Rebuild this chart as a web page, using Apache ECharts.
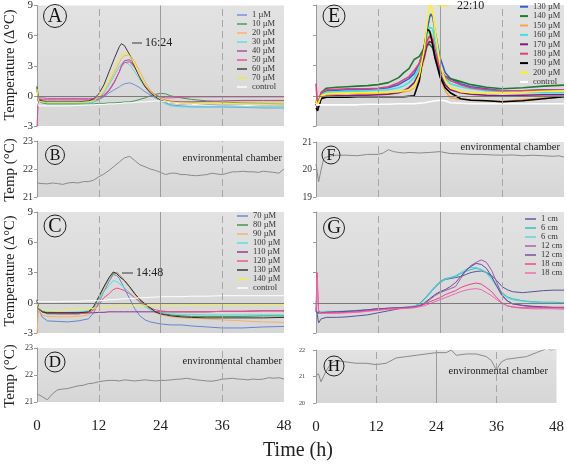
<!DOCTYPE html>
<html><head><meta charset="utf-8">
<script src="https://cdn.jsdelivr.net/npm/echarts@6/dist/echarts.min.js"></script>
<style>html,body{margin:0;padding:0;background:#fff}#c{width:567px;height:464px}</style>
</head><body><div id="c"></div><script>
// ---------- DATA ----------
// Panel A (time in h, ΔT in °C)
const tA = [0,0.3,1,2,4,6,8,10,11,12,13,14,15,16,16.4,17,18,19,20,21,22,23,24,25,26,28,30,33,36,40,44,48];
const a1  = [1.0,-0.4,-0.6,-0.7,-0.7,-0.7,-0.7,-0.7,-0.6,-0.4,-0.1,0.3,0.6,0.9,1.05,1.2,1.3,1.1,0.8,0.4,0.1,-0.2,-0.5,-0.7,-0.9,-1.0,-1.1,-1.1,-1.1,-1.15,-1.2,-1.2];
const a10 = [0.8,-0.5,-0.7,-0.8,-0.8,-0.8,-0.8,-0.8,-0.8,-0.75,-0.75,-0.7,-0.7,-0.65,-0.65,-0.6,-0.6,-0.5,-0.35,-0.2,0.0,0.15,0.25,0.2,0.0,-0.2,-0.35,-0.5,-0.6,-0.7,-0.75,-0.8];
const a20 = [0.8,-0.4,-0.5,-0.6,-0.6,-0.6,-0.6,-0.6,-0.5,-0.2,0.4,1.3,2.3,3.3,3.7,4.0,4.1,3.4,2.4,1.4,0.6,0.1,-0.2,-0.4,-0.5,-0.55,-0.6,-0.6,-0.6,-0.6,-0.6,-0.6];
const a30 = [0.6,-0.5,-0.6,-0.7,-0.7,-0.7,-0.7,-0.7,-0.6,-0.3,0.3,1.1,2.0,2.9,3.2,3.4,3.1,2.4,1.6,0.9,0.4,-0.1,-0.5,-0.8,-1.0,-1.1,-1.1,-1.1,-1.1,-1.1,-1.15,-1.15];
const a40 = [0.5,-0.3,-0.4,-0.4,-0.4,-0.4,-0.4,-0.4,-0.4,-0.3,0.0,0.5,1.3,2.4,3.0,3.5,3.6,2.9,1.9,1.0,0.4,0.0,-0.3,-0.45,-0.55,-0.6,-0.6,-0.55,-0.5,-0.45,-0.45,-0.45];
const a50 = [-3.0,-0.2,-0.2,-0.25,-0.25,-0.25,-0.25,-0.25,-0.25,-0.15,0.1,0.6,1.4,2.4,2.9,3.3,3.4,2.8,1.9,1.1,0.5,0.1,-0.1,-0.2,-0.2,-0.15,-0.1,-0.1,-0.1,-0.1,-0.1,-0.1];
const a60 = [0.9,-0.4,-0.5,-0.6,-0.6,-0.6,-0.6,-0.5,-0.3,0.2,1.1,2.4,3.7,4.9,5.2,5.0,4.1,2.9,1.8,0.9,0.3,-0.1,-0.4,-0.6,-0.7,-0.8,-0.85,-0.85,-0.9,-0.95,-1.0,-1.0];
const a70 = [0.7,-0.5,-0.6,-0.65,-0.65,-0.65,-0.65,-0.6,-0.5,-0.1,0.6,1.6,2.7,3.7,4.1,4.3,4.0,3.1,2.0,1.1,0.5,0.0,-0.3,-0.5,-0.6,-0.7,-0.75,-0.75,-0.75,-0.8,-0.8,-0.8];
const aCtl = [-0.5,-1.0,-1.0,-1.0,-1.0,-1.0,-0.95,-0.9,-0.9,-0.85,-0.85,-0.8,-0.8,-0.75,-0.75,-0.7,-0.7,-0.65,-0.6,-0.6,-0.55,-0.5,-0.5,-0.6,-0.7,-0.8,-0.85,-0.9,-0.9,-0.95,-1.0,-1.0];
const namesA = ['1 µM','10 µM','20 µM','30 µM','40 µM','50 µM','60 µM','70 µM','control'];

// Panel C
const tC = [0,0.3,1,2,4,6,8,10,11,12,13,14,14.8,15.5,16,17,18,19,20,21,22,23,24,26,28,30,33,36,40,44,48];
const c70  = [0.3,-0.6,-1.4,-1.8,-1.85,-1.9,-1.8,-1.6,-1.0,0.0,1.1,2.1,2.8,2.7,2.4,1.4,0.4,-0.6,-1.3,-1.7,-1.9,-2.0,-2.1,-2.2,-2.2,-2.3,-2.4,-2.5,-2.5,-2.4,-2.35];
const c80  = [0.3,-0.5,-0.9,-1.1,-1.1,-1.1,-1.1,-0.95,-0.5,0.4,1.5,2.4,2.9,3.0,2.8,2.2,1.5,0.9,0.3,-0.2,-0.6,-0.9,-1.05,-1.2,-1.3,-1.35,-1.35,-1.35,-1.35,-1.3,-1.3];
const c90  = [-3.0,-0.8,-1.2,-1.35,-1.4,-1.4,-1.35,-1.2,-0.7,0.3,1.4,2.4,3.0,3.0,2.8,2.2,1.5,0.8,0.2,-0.3,-0.7,-1.0,-1.2,-1.4,-1.5,-1.55,-1.6,-1.7,-1.8,-1.9,-1.95];
const c100 = [0.2,-0.5,-0.8,-0.9,-0.95,-0.95,-0.9,-0.8,-0.4,0.3,1.1,1.7,2.2,2.1,1.9,1.5,1.0,0.5,0.0,-0.4,-0.7,-0.9,-1.0,-1.1,-1.15,-1.15,-1.2,-1.2,-1.2,-1.2,-1.2];
const c110 = [0.0,-0.6,-0.9,-1.0,-1.0,-1.0,-1.0,-1.0,-1.0,-0.95,-0.95,-0.9,-0.9,-0.9,-0.9,-0.9,-0.9,-0.9,-0.9,-0.9,-0.9,-0.9,-0.9,-0.9,-0.9,-0.9,-0.9,-0.85,-0.85,-0.8,-0.8];
const c120 = [0.1,-0.6,-0.9,-1.0,-1.1,-1.1,-1.1,-1.0,-0.7,-0.2,0.5,0.9,1.3,1.45,1.4,1.2,0.9,0.5,0.1,-0.2,-0.5,-0.7,-0.8,-0.9,-0.9,-0.9,-0.9,-0.85,-0.85,-0.8,-0.8];
const c130 = [0.2,-0.5,-0.9,-1.0,-1.0,-1.0,-1.0,-0.9,-0.4,0.6,1.6,2.5,3.05,2.9,2.6,2.2,1.6,0.9,0.3,-0.1,-0.5,-0.9,-1.1,-1.3,-1.4,-1.45,-1.5,-1.5,-1.5,-1.5,-1.45];
const c140 = [0.0,-0.5,-0.7,-0.75,-0.75,-0.7,-0.65,-0.6,-0.55,-0.5,-0.45,-0.4,-0.35,-0.35,-0.3,-0.3,-0.3,-0.3,-0.3,-0.3,-0.3,-0.3,-0.3,-0.3,-0.3,-0.25,-0.25,-0.2,-0.2,-0.2,-0.2];
const cCtl = [0.1,0.1,0.1,0.1,0.1,0.15,0.15,0.2,0.2,0.2,0.25,0.3,0.3,0.35,0.35,0.4,0.4,0.45,0.5,0.5,0.55,0.55,0.6,0.6,0.6,0.65,0.65,0.7,0.7,0.7,0.7];
const namesC = ['70 µM','80 µM','90 µM','100 µM','110 µM','120 µM','130 µM','140 µM','control'];

// Panel E
const tE = [0,0.3,1,2,4,6,8,10,12,14,16,17,18,19,20,21,21.5,22,22.2,22.6,23,24,25,26,28,30,33,36,40,44,48];
const e130 = [-0.5,-1.0,0.2,0.5,0.55,0.6,0.6,0.65,0.7,0.8,1.1,1.4,1.7,2.2,3.2,5.0,6.5,7.8,8.1,7.8,6.5,3.8,2.3,1.7,1.2,0.9,0.7,0.5,0.5,0.6,0.6];
const e140 = [-0.5,-1.0,0.3,0.75,0.85,0.9,0.95,1.0,1.1,1.3,1.8,2.3,2.7,3.6,3.9,4.8,5.0,5.1,5.0,4.7,3.9,2.4,1.9,1.7,1.4,1.1,0.85,0.7,0.8,0.95,1.05];
const e150 = [-0.8,-1.2,0.0,0.1,0.15,0.2,0.2,0.2,0.2,0.25,0.3,0.4,0.5,0.8,1.8,3.8,5.2,6.0,6.2,5.8,4.5,1.8,0.5,-0.2,-0.35,-0.4,-0.5,-0.6,-0.4,-0.2,-0.1];
const e160 = [-0.6,-1.0,0.1,0.35,0.4,0.45,0.45,0.5,0.55,0.6,0.8,1.0,1.3,1.8,2.8,4.6,6.0,6.8,6.9,6.6,5.4,2.9,1.7,1.2,0.9,0.7,0.5,0.4,0.35,0.3,0.3];
const e170 = [-0.8,-1.3,-0.2,-0.05,0.0,0.0,0.05,0.05,0.1,0.15,0.3,0.5,0.8,1.3,2.3,3.9,5.0,5.4,5.5,5.2,4.3,2.2,1.1,0.6,0.3,0.15,0.05,0.0,0.05,0.1,0.1];
const e180 = [1.2,-1.0,0.3,0.6,0.65,0.7,0.7,0.7,0.75,0.9,1.3,1.6,1.9,2.5,3.2,4.6,5.5,5.9,5.9,5.6,4.6,2.7,1.9,1.5,1.1,0.8,0.6,0.5,0.5,0.55,0.6];
const e190 = [-1.2,-1.5,-0.3,-0.15,-0.15,-0.15,-0.1,-0.1,-0.1,-0.1,-0.1,-0.1,-0.05,0.0,1.5,5.0,6.6,6.4,6.0,5.0,3.8,1.9,0.8,0.3,-0.3,-0.45,-0.5,-0.6,-0.5,-0.3,-0.1];
const e200 = [-0.5,-1.0,0.0,0.2,0.25,0.25,0.3,0.3,0.3,0.35,0.4,0.5,0.6,0.9,2.0,4.8,7.2,8.7,9.0,8.4,6.6,3.2,1.5,0.8,0.4,0.3,0.3,0.3,0.35,0.45,0.5];
const eCtl = [-0.9,-0.9,-0.9,-0.9,-0.9,-0.9,-0.9,-0.85,-0.85,-0.85,-0.8,-0.8,-0.8,-0.8,-0.75,-0.7,-0.65,-0.6,-0.55,-0.55,-0.5,-0.45,-0.5,-0.7,-0.75,-0.8,-0.8,-0.8,-0.8,-0.8,-0.8];
const namesE = ['130 µM','140 µM','150 µM','160 µM','170 µM','180 µM','190 µM','200 µM','control'];

// Panel G
const tG = [0,0.2,0.5,1,2,4,6,8,10,12,14,16,18,19,20,21,22,23,24,25,26,27,28,29,30,31,32,33,34,35,36,37,38,40,42,44,46,48];
const g1   = [-0.5,-1.0,-2.0,-1.6,-1.45,-1.45,-1.4,-1.3,-1.2,-1.0,-0.8,-0.6,-0.45,-0.4,-0.1,0.4,0.9,1.5,2.0,2.3,2.4,2.5,2.6,2.8,3.0,3.1,3.15,3.0,2.7,2.2,1.6,1.3,1.1,1.0,1.1,1.2,1.25,1.25];
const g6a  = [-0.8,-1.2,-1.0,-0.95,-0.9,-0.9,-0.85,-0.75,-0.7,-0.6,-0.55,-0.5,-0.4,-0.35,-0.1,0.4,1.0,1.6,2.1,2.4,2.5,2.6,2.9,3.1,3.3,3.4,3.3,3.0,2.5,1.7,1.0,0.6,0.4,0.2,0.1,0.05,0.05,0.0];
const g6b  = [-0.8,-1.0,-0.9,-0.9,-0.85,-0.85,-0.8,-0.75,-0.7,-0.6,-0.55,-0.5,-0.4,-0.35,-0.15,0.3,0.9,1.5,2.0,2.3,2.5,2.7,3.0,3.3,3.5,3.5,3.3,2.9,2.3,1.6,0.9,0.5,0.3,0.15,0.05,0.0,-0.05,-0.05];
const g12a = [-0.8,-1.0,-1.0,-1.0,-0.95,-0.9,-0.85,-0.8,-0.7,-0.6,-0.55,-0.5,-0.45,-0.4,-0.3,-0.1,0.3,0.7,1.0,1.2,1.4,1.6,2.4,3.2,3.7,4.0,4.25,4.0,3.2,2.0,0.8,0.2,-0.1,-0.3,-0.4,-0.45,-0.5,-0.5];
const g12b = [-0.8,-1.0,-1.0,-1.0,-0.95,-0.9,-0.85,-0.8,-0.7,-0.6,-0.55,-0.5,-0.45,-0.4,-0.3,0.0,0.4,0.8,1.1,1.3,1.6,2.0,2.6,3.2,3.6,3.9,3.8,3.4,2.6,1.6,0.7,0.2,-0.1,-0.25,-0.35,-0.4,-0.45,-0.45];
const g18a = [-0.8,3.0,-0.8,-1.0,-1.0,-1.0,-0.95,-0.9,-0.8,-0.7,-0.6,-0.55,-0.5,-0.45,-0.35,-0.15,0.1,0.3,0.5,0.8,1.0,1.2,1.5,1.7,1.85,1.95,1.85,1.5,1.1,0.5,0.0,-0.3,-0.4,-0.5,-0.5,-0.5,-0.5,-0.5];
const g18b = [-0.8,2.5,-0.9,-1.05,-1.05,-1.05,-1.0,-0.95,-0.85,-0.75,-0.65,-0.6,-0.55,-0.5,-0.4,-0.3,-0.1,0.1,0.3,0.5,0.7,0.9,1.1,1.25,1.35,1.4,1.3,1.0,0.7,0.3,-0.05,-0.3,-0.45,-0.55,-0.6,-0.6,-0.6,-0.65];
const namesG = ['1 cm','6 cm','6 cm','12 cm','12 cm','18 cm','18 cm'];

// Environmental chamber panels (°C)
const tHourly = [0,1,2,3,4,5,6,7,8,9,10,11,12,13,14,15,16,17,18,19,20,21,22,23,24,25,26,27,28,29,30,31,32,33,34,35,36,37,38,39,40,41,42,43,44,45,46,47,48];
const envB = [21.5,21.48,21.47,21.5,21.48,21.45,21.5,21.52,21.5,21.55,21.55,21.6,21.72,21.82,21.95,22.1,22.25,22.4,22.45,22.3,22.15,22.08,22.0,21.95,21.88,21.8,21.85,21.85,21.8,21.8,21.77,21.76,21.78,21.8,21.85,21.82,21.8,21.85,21.9,21.9,21.92,21.9,21.9,21.88,21.92,21.9,21.88,21.85,22.0];
const envD = [21.3,21.2,21.08,21.3,21.45,21.48,21.5,21.55,21.6,21.62,21.68,21.7,21.75,21.78,21.8,21.8,21.78,21.82,21.8,21.78,21.8,21.82,21.8,21.78,21.8,21.8,21.82,21.84,21.85,21.88,21.85,21.82,21.8,21.78,21.77,21.8,21.85,21.86,21.88,21.85,21.84,21.82,21.85,21.83,21.85,21.9,21.88,21.9,21.85];
const tF = [0,0.5,1,1.5,2,3,4,6,8,10,12,13,14,15,16,17,18,20,22,24,26,28,30,32,34,36,38,40,42,44,46,47,48];
const envF = [20.2,19.55,20.0,20.4,20.45,20.5,20.52,20.52,20.5,20.55,20.55,20.6,20.72,20.65,20.62,20.6,20.62,20.6,20.62,20.65,20.58,20.57,20.55,20.55,20.53,20.52,20.53,20.5,20.52,20.5,20.48,20.5,20.45];
const tH = [0,0.5,1,2,3,4,6,8,10,12,14,16,18,20,22,24,26,27,28,30,32,34,35,36,37,38,40,42,44,46,47,48];
const envH = [21.05,21.1,20.8,21.2,21.5,21.6,21.55,21.5,21.5,21.45,21.5,21.7,21.75,21.8,21.85,21.9,21.9,22.0,21.8,21.85,21.85,21.75,21.6,21.25,21.55,21.65,21.7,21.75,21.9,22.05,22.0,22.05];

const xTicks = [0,12,24,36,48];

// ---------- STYLE ----------
const FONT = '"Liberation Serif","Times New Roman",serif';
const colA = ['#6f8fd8','#3f9a50','#f6b45a','#58e0e0','#a04ba0','#e2489a','#3a3a3a','#f0ea3c','#ffffff'];
const colC = ['#6585d5','#3f8f45','#f3b06a','#50e2e2','#8e2f90','#f04f86','#2e2e2e','#f2ee4a','#ffffff'];
const colE = ['#2f5fd0','#1f7a2f','#f5a54a','#3fe2e2','#7d1f7d','#e23f83','#000000','#fff21a','#ffffff'];
const colG = ['#55559a','#25c0bc','#4ed7e0','#a35aa8','#6b4a98','#e8428c','#f266aa'];

const panels = [
  {left:37, top:5,   width:247, height:121, min:-3, max:9,  interval:3, label:true, lsize:11, xlab:false, zero:true},
  {left:37, top:141, width:247, height:56,  min:21, max:23, interval:1, label:true, lsize:10, xlab:false},
  {left:37, top:212, width:247, height:121, min:-3, max:9,  interval:3, label:true, lsize:11, xlab:false, zero:true},
  {left:37, top:348, width:247, height:54,  min:21, max:23, interval:1, label:true, lsize:8,  xlab:true},
  {left:316,top:5,   width:248, height:121, min:-3, max:9,  interval:3, label:false, xlab:false, zero:true},
  {left:316,top:142, width:248, height:55,  min:19, max:21, interval:1, label:true, lsize:9.5, xlab:false},
  {left:316,top:212, width:248, height:121, min:-3, max:9,  interval:3, label:false, xlab:false, zero:true},
  {left:316,top:350, width:248, height:53,  min:20, max:22, interval:1, label:true, lsize:6, xlab:true}
];

const bg = {type:'linear',x:0,y:0,x2:0,y2:1,colorStops:[{offset:0,color:'#e2e2e2'},{offset:1,color:'#d6d6d6'}]};
const grids = panels.map(p => ({left:p.left, top:p.top, width:p.width, height:p.height, show:true, backgroundColor:bg, borderWidth:0, containLabel:false}));
const xAxes = panels.map((p,i) => ({type:'value', gridIndex:i, min:xTicks[0], max:xTicks[xTicks.length-1], interval:12,
  axisLine:{show:false}, axisTick:{show:false}, splitLine:{show:false},
  axisLabel:{show:p.xlab, margin:17, fontSize:15, fontFamily:FONT, color:'#222'}}));
const yAxes = panels.map((p,i) => ({type:'value', gridIndex:i, min:p.min, max:p.max, interval:p.interval,
  axisLine:{show:true, lineStyle:{color:'#9a9a9a'}}, axisTick:{show:true, length:3, lineStyle:{color:'#9a9a9a'}},
  splitLine:{show:false},
  axisLabel:{show:p.label, fontSize:p.lsize||10, fontFamily:FONT, color:'#333', margin: i===7?11:4}}));

function check(t, v, n){ if(t.length!==v.length) throw new Error('length mismatch '+n+': '+t.length+' vs '+v.length); }
function refLines(zero){
  const d = [
    {xAxis:12, lineStyle:{type:[7,4], color:'#a6a6a6', width:1}},
    {xAxis:24, lineStyle:{type:'solid', color:'#9c9c9c', width:1}},
    {xAxis:36, lineStyle:{type:[7,4], color:'#a6a6a6', width:1}}
  ];
  if(zero) d.push({yAxis:0, lineStyle:{type:'solid', color:'#7a7a7a', width:1.2}});
  return {silent:true, symbol:'none', label:{show:false}, animation:false, data:d};
}
const series = [];
function addSeries(prefix, names, t, arrs, cols, gi, width, zero){
  arrs.forEach((v,k) => {
    check(t, v, prefix+k);
    const s = {type:'line', name: prefix+'|'+names[k]+'|'+k, xAxisIndex:gi, yAxisIndex:gi, showSymbol:false, symbol:'none',
      data: t.map((x,j)=>[x, v[j]]), lineStyle:{color:cols[k], width:width}, itemStyle:{color:cols[k]}, z:3};
    if(k===0) s.markLine = refLines(zero);
    series.push(s);
  });
}
addSeries('A', namesA, tA, [a1,a10,a20,a30,a40,a50,a60,a70,aCtl], colA, 0, 1, true);
addSeries('B', ['env'], tHourly, [envB], ['#8a8a8a'], 1, 1, false);
addSeries('C', namesC, tC, [c70,c80,c90,c100,c110,c120,c130,c140,cCtl], colC, 2, 1, true);
addSeries('D', ['env'], tHourly, [envD], ['#8a8a8a'], 3, 1, false);
addSeries('E', namesE, tE, [e130,e140,e150,e160,e170,e180,e190,e200,eCtl], colE, 4, 1.6, true);
addSeries('F', ['env'], tF, [envF], ['#8a8a8a'], 5, 1, false);
addSeries('G', namesG, tG, [g1,g6a,g6b,g12a,g12b,g18a,g18b], colG, 6, 1, true);
addSeries('H', ['env'], tH, [envH], ['#8a8a8a'], 7, 1, false);

function legendFor(prefix, names, left, top, iw, ih, lh, fs){
  return {orient:'vertical', left:left, top:top, padding:0, itemGap:0, itemWidth:iw, itemHeight:ih, icon:'rect',
    selectedMode:false, data: names.map((n,k)=>prefix+'|'+n+'|'+k),
    formatter: n => n.split('|')[1],
    textStyle:{fontFamily:FONT, fontSize:fs, color:'#333', lineHeight:lh, padding:0}};
}
const legends = [
  legendFor('A', namesA, 237, 10.5, 10, 1.4, 8.9, 8.5),
  legendFor('C', namesC, 237, 211.5, 11, 1.4, 9, 8.5),
  legendFor('E', namesE, 520, 2, 8, 2, 9.4, 8.5),
  legendFor('G', namesG, 525, 214.5, 11, 1.4, 9, 8.5)
];

// ---------- GRAPHICS (labels, titles) ----------
const gEl = [];
function circ(cx, cy, r, letter, fs){
  gEl.push({type:'circle', shape:{cx:cx, cy:cy, r:r}, style:{fill:'none', stroke:'#222', lineWidth:1}, z:10});
  gEl.push({type:'text', x:cx, y:cy+0.5, style:{text:letter, fontFamily:FONT, fontSize:fs, fill:'#111', align:'center', verticalAlign:'middle'}, z:10});
}
circ(55, 16, 11.5, 'A', 20);
circ(55, 155, 9.5, 'B', 16);
circ(55, 226, 11, 'C', 20);
circ(55, 362, 10, 'D', 17);
circ(334, 16, 11, 'E', 20);
circ(331, 155, 9, 'F', 16);
circ(334, 228, 10.5, 'G', 19);
circ(334, 366, 10, 'H', 17);

function txt(x, y, s, fs, align, rot){
  gEl.push({type:'text', x:x, y:y, rotation:rot||0, style:{text:s, fontFamily:FONT, fontSize:fs, fill:'#222', align:align||'left', verticalAlign:'middle'}, z:10});
}
txt(282, 158, 'environmental chamber', 10.5, 'right');
txt(560, 147, 'environmental chamber', 10.5, 'right');
txt(282, 361, 'environmental chamber', 10.5, 'right');
txt(548, 371, 'environmental chamber', 10.5, 'right');

txt(10, 65, 'Temperature (Δ°C)', 14.5, 'center', Math.PI/2);
txt(10, 170, 'Temp (°C)', 15, 'center', Math.PI/2);
txt(10, 271, 'Temperature (Δ°C)', 14.5, 'center', Math.PI/2);
txt(10, 376, 'Temp (°C)', 15, 'center', Math.PI/2);
txt(298, 451, 'Time (h)', 20, 'center');

// peak time annotations
function ann(x1, x2, y, tx, s, col){
  gEl.push({type:'line', shape:{x1:x1, y1:y, x2:x2, y2:y}, style:{stroke:col, lineWidth:1.2}, z:10});
  txt(tx, y, s, 12, 'left');
}
ann(132, 142, 43, 145, '16:24', '#555');
ann(122, 133, 273, 136, '14:48', '#555');
ann(438, 449, 6, 457, '22:10', '#f0e830');

const chart = echarts.init(document.getElementById('c'), null, {renderer:'canvas'});
chart.setOption({
  animation:false,
  backgroundColor:'#ffffff',
  grid: grids, xAxis: xAxes, yAxis: yAxes,
  legend: legends,
  series: series,
  graphic: {elements: gEl}
});
</script></body></html>
